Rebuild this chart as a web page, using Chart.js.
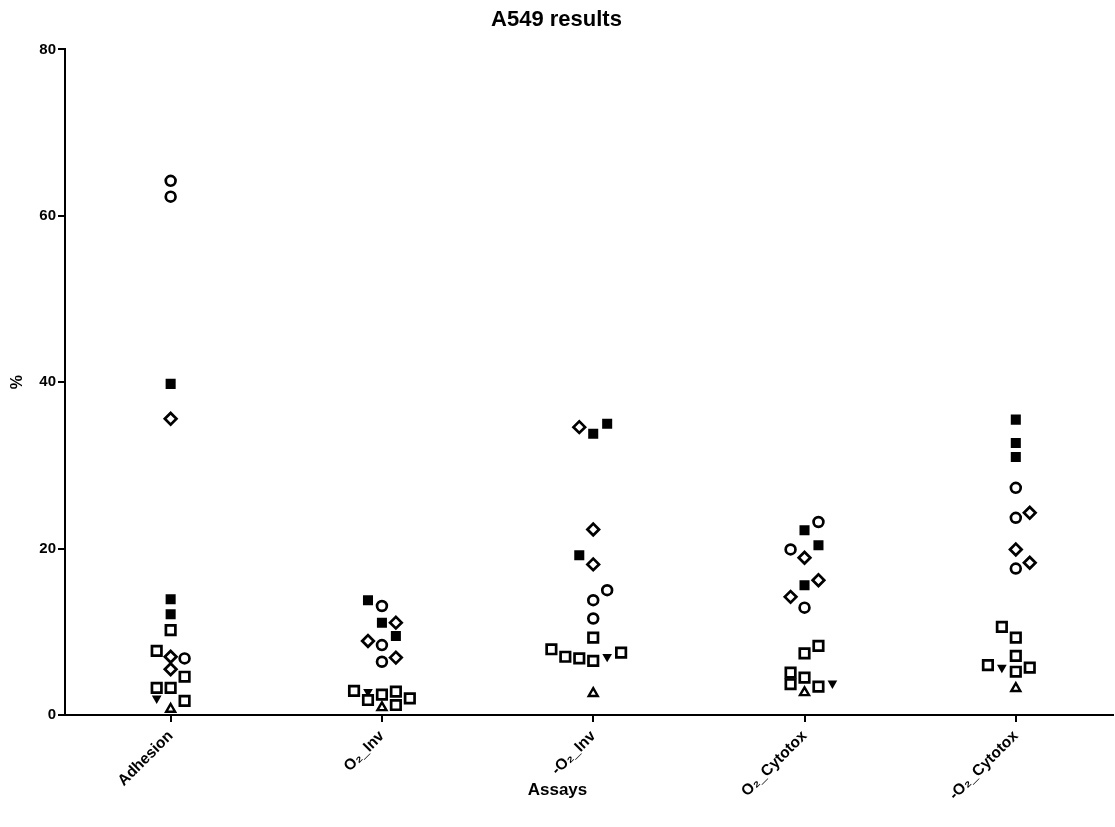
<!DOCTYPE html>
<html>
<head>
<meta charset="utf-8">
<script src="https://cdn.jsdelivr.net/npm/chart.js@4/dist/chart.umd.min.js"></script>
<style>
  html, body { margin: 0; padding: 0; background: #fff; }
</style>
</head>
<body>
<canvas id="dotChart" width="1115" height="827"></canvas>
<script>
// categories on the x axis
const assays = ["Adhesion", "O\u2082_Inv", "-O\u2082_Inv", "O\u2082_Cytotox", "-O\u2082_Cytotox"];
const yTicks = [0, 20, 40, 60, 80];

// each point: [category (1-based), jitter column, value %]
const openCircles = [
  [1, 0, 64.2], [1, 0, 62.3], [1, 1, 6.8],
  [2, 0, 13.1], [2, 0, 8.4], [2, 0, 6.4],
  [3, 1, 15.0], [3, 0, 13.8], [3, 0, 11.6],
  [4, 1, 23.2], [4, -1, 19.9], [4, 0, 12.9],
  [5, 0, 27.3], [5, 0, 23.7], [5, 0, 17.6],
];
const filledSquares = [
  [1, 0, 39.8], [1, 0, 13.9], [1, 0, 12.1],
  [2, -1, 13.8], [2, 0, 11.1], [2, 1, 9.5],
  [3, 0, 33.8], [3, 1, 35.0], [3, -1, 19.2],
  [4, 0, 22.2], [4, 1, 20.4], [4, 0, 15.6],
  [5, 0, 35.5], [5, 0, 32.7], [5, 0, 31.0],
];
const openDiamonds = [
  [1, 0, 35.6], [1, 0, 7.0], [1, 0, 5.5],
  [2, 1, 11.1], [2, -1, 8.9], [2, 1, 6.9],
  [3, -1, 34.6], [3, 0, 22.3], [3, 0, 18.1],
  [4, 0, 18.9], [4, 1, 16.2], [4, -1, 14.2],
  [5, 1, 24.3], [5, 0, 19.9], [5, 1, 18.3],
];
const openSquares = [
  [1, 0, 10.2], [1, -1, 7.7], [1, 1, 4.6], [1, -1, 3.25], [1, 0, 3.25], [1, 1, 1.7],
  [2, -2, 2.9], [2, -1, 1.8], [2, 0, 2.45], [2, 1, 2.8], [2, 2, 2.0], [2, 1, 1.2],
  [3, 0, 9.3], [3, -3, 7.9], [3, -2, 7.0], [3, -1, 6.8], [3, 0, 6.5], [3, 2, 7.5],
  [4, 1, 8.3], [4, 0, 7.4], [4, -1, 5.1], [4, 0, 4.5], [4, -1, 3.7], [4, 1, 3.4],
  [5, -1, 10.6], [5, 0, 9.3], [5, 0, 7.1], [5, -2, 6.0], [5, 0, 5.2], [5, 1, 5.7],
];
const triDown = [
  [1, -1, 2.0], [2, -1, 2.8], [3, 1, 7.0], [4, 2, 3.8], [5, -1, 5.7],
];
const triUp = [
  [1, 0, 0.7], [2, 0, 0.9], [3, 0, 2.6], [4, 0, 2.7], [5, 0, 3.2],
];

const JITTER = 0.066;
function toPoints(arr) {
  return arr.map((p) => ({ x: p[0] + p[1] * JITTER, y: p[2] }));
}

const font = "'Liberation Sans', Arial, sans-serif";

const datasets = [
  { data: toPoints(openCircles), pointStyle: "circle", pointRadius: 4.9,
    backgroundColor: "#fff", borderColor: "#000", borderWidth: 2.7 },
  { data: toPoints(filledSquares), pointStyle: "rect", pointRadius: 7.1,
    backgroundColor: "#000", borderColor: "#000", borderWidth: 0 },
  { data: toPoints(openDiamonds), pointStyle: "rectRot", pointRadius: 5.8,
    backgroundColor: "#fff", borderColor: "#000", borderWidth: 2.7 },
  { data: toPoints(openSquares), pointStyle: "rect", pointRadius: 6.7,
    backgroundColor: "#fff", borderColor: "#000", borderWidth: 2.7 },
  { data: toPoints(triDown), pointStyle: "triangle", rotation: 180, pointRadius: 5.6,
    backgroundColor: "#000", borderColor: "#000", borderWidth: 0 },
  { data: toPoints(triUp), pointStyle: "triangle", pointRadius: 5.2,
    backgroundColor: "#fff", borderColor: "#000", borderWidth: 2.4 },
];

// x axis title: the original centres it on the whole figure, not the plot area
const xTitlePlugin = {
  id: "xTitle",
  afterDraw(chart) {
    const ctx = chart.ctx;
    ctx.save();
    ctx.fillStyle = "#000";
    ctx.font = "bold 17px " + font;
    ctx.textAlign = "center";
    ctx.textBaseline = "middle";
    ctx.fillText("Assays", chart.width / 2, chart.height - 37);
    ctx.restore();
  },
};

new Chart(document.getElementById("dotChart"), {
  type: "scatter",
  data: { datasets: datasets },
  plugins: [xTitlePlugin],
  options: {
    responsive: false,
    animation: false,
    layout: { autoPadding: false, padding: { left: 0, right: 2, top: 0, bottom: 0 } },
    plugins: {
      legend: { display: false },
      tooltip: { enabled: false },
      title: {
        display: true,
        text: "A549 results",
        color: "#000",
        font: { family: font, size: 22, weight: "bold" },
        padding: { top: 7, bottom: 16 },
      },
    },
    scales: {
      x: {
        type: "linear",
        min: 0.5,
        max: 5.46,
        afterBuildTicks: (scale) => {
          scale.ticks = assays.map((a, i) => ({ value: i + 1 }));
        },
        afterFit: (scale) => {
          scale.height = 112;
          // the rotated labels hang to the left, so no extra room on the right
          scale.paddingLeft = 0;
          scale.paddingRight = 0;
        },
        ticks: {
          color: "#000",
          font: { family: font, size: 15.5, weight: "bold" },
          maxRotation: 45,
          minRotation: 45,
          padding: 5,
          callback: (v) => assays[Math.round(v) - 1],
        },
        grid: { drawOnChartArea: false, drawTicks: true, tickLength: 7, color: "#000", lineWidth: 2 },
        border: { display: true, color: "#000", width: 2 },
      },
      y: {
        min: 0,
        max: 80,
        afterBuildTicks: (scale) => {
          scale.ticks = yTicks.map((v) => ({ value: v }));
        },
        afterFit: (scale) => { scale.width = 65; },
        ticks: {
          color: "#000",
          font: { family: font, size: 15, weight: "bold" },
          padding: 2,
        },
        grid: { drawOnChartArea: false, drawTicks: true, tickLength: 7, color: "#000", lineWidth: 2 },
        border: { display: true, color: "#000", width: 2 },
        title: {
          display: true,
          text: "%",
          color: "#000",
          font: { family: font, size: 16, weight: "bold" },
          padding: { top: 8, bottom: 0 },
        },
      },
    },
  },
});
</script>
</body>
</html>
